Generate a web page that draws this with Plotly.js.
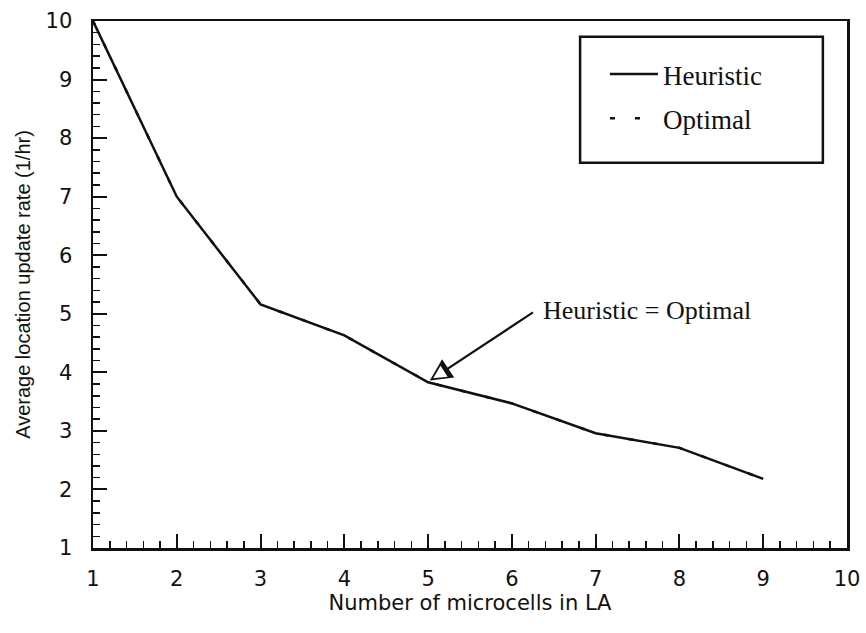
<!DOCTYPE html>
<html><head><meta charset="utf-8">
<script src="https://cdn.plot.ly/plotly-3.0.1.min.js"></script>
<style>html,body{margin:0;padding:0;background:#fff}</style>
</head><body><div id="chart" style="width:866px;height:633px"></div>
<script>
const microcells = [1, 2, 3, 4, 5, 6, 7, 8, 9];
const heuristicRate = [10, 7.0, 5.16, 4.63, 3.83, 3.47, 2.96, 2.71, 2.18];
const optimalRate = [10, 7.0, 5.16, 4.63, 3.83, 3.47, 2.96, 2.71, 2.18];
const tickVals = [1, 2, 3, 4, 5, 6, 7, 8, 9, 10];

const traces = [
  {x: microcells, y: optimalRate, type: 'scatter', mode: 'lines', name: 'Optimal', legendgroup: 'b', legendrank: 2,
   line: {color: '#111', width: 2.5, dash: '5px,20px'}},
  {x: microcells, y: heuristicRate, type: 'scatter', mode: 'lines', name: 'Heuristic', legendgroup: 'a', legendrank: 1,
   line: {color: '#111', width: 2.5}}
];

const axisCommon = {
  showgrid: false, zeroline: false, showline: true, linecolor: '#111', linewidth: 2.5,
  mirror: true, ticks: 'inside', ticklen: 14, tickwidth: 2, tickcolor: '#111',
  tickfont: {family: 'DejaVu Sans, sans-serif', size: 21, color: '#111'},
  tickvals: tickVals,
  minor: {ticks: 'inside', ticklen: 7, tickwidth: 1.5, tickcolor: '#111', dtick: 0.2, showgrid: false}
};

const layout = {
  width: 866, height: 633,
  margin: {l: 93, r: 19, t: 21, b: 85},
  paper_bgcolor: '#fff', plot_bgcolor: '#fff',
  showlegend: true,
  legend: {x: 0.679, y: 0.945, xanchor: 'left', yanchor: 'top', traceorder: 'grouped',
    borderwidth: 0, bgcolor: 'rgba(0,0,0,0)',
    font: {family: 'Liberation Serif, serif', size: 27, color: '#111'},
    itemwidth: 48, tracegroupgap: 6},
  xaxis: Object.assign({}, axisCommon, {range: [1, 10], ticklabelstandoff: 10,
    title: {text: 'Number of microcells in LA', standoff: 6,
      font: {family: 'DejaVu Sans, sans-serif', size: 21, color: '#111'}}}),
  yaxis: Object.assign({}, axisCommon, {range: [1, 10], ticklabelstandoff: 14,
    title: {text: 'Average location update rate (1/hr)', standoff: 10,
      font: {family: 'Liberation Sans, sans-serif', size: 20, color: '#111'}}}),
  shapes: [{type: 'rect', xref: 'paper', yref: 'paper', x0: 0.646, x1: 0.968, y0: 0.731, y1: 0.970,
    line: {color: '#111', width: 2.5}, fillcolor: 'rgba(0,0,0,0)'}],
  annotations: [{
    x: 5.02, y: 3.86, xref: 'x', yref: 'y',
    ax: 6.27, ay: 5.04, axref: 'x', ayref: 'y',
    text: '', showarrow: true, arrowhead: 2, arrowsize: 2, arrowwidth: 2.2, arrowcolor: '#111'
  }, {
    x: 5.02, y: 3.86, xref: 'x', yref: 'y',
    ax: 13, ay: -8.4, standoff: 4,
    text: '', showarrow: true, arrowhead: 2, arrowsize: 2.6, arrowwidth: 1, arrowcolor: '#fff'
  }, {
    x: 6.35, y: 5.06, xref: 'x', yref: 'y', xanchor: 'left', yanchor: 'middle',
    text: 'Heuristic = Optimal', showarrow: false,
    font: {family: 'Liberation Serif, serif', size: 26, color: '#111'}
  }]
};

Plotly.newPlot('chart', traces, layout, {displayModeBar: false, staticPlot: true});
</script></body></html>
